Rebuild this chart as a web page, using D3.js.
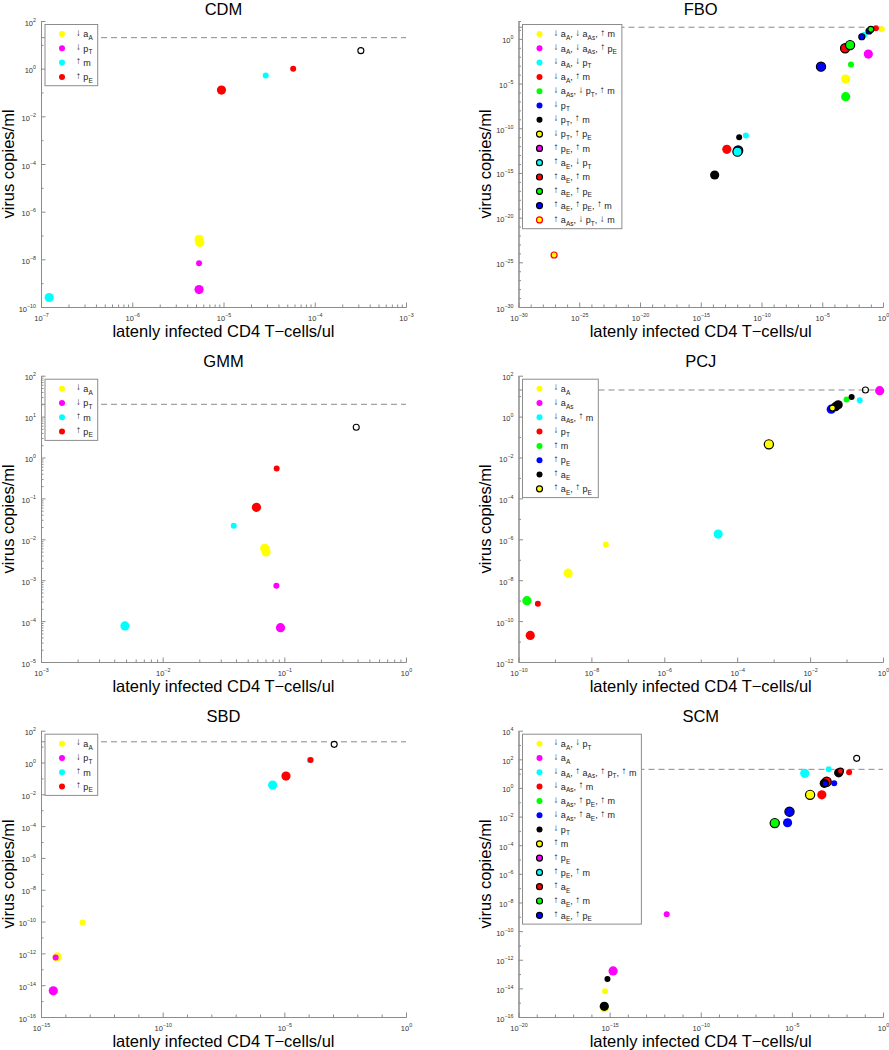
<!DOCTYPE html>
<html><head><meta charset="utf-8">
<script src="https://cdn.jsdelivr.net/npm/d3@7"></script>
<style>
body{margin:0;background:#fff}
svg{display:block}
text{font-family:"Liberation Sans",Arial,Helvetica,sans-serif}
</style>
</head><body>
<svg id="chart" width="889" height="1050"></svg>
<script>
// ---------------- DATA ----------------
const detectionLimit = 20;            // dashed reference level (copies/ml)
const xLabel = "latenly infected CD4 T\u2212cells/ul";
const yLabel = "virus copies/ml";

// CDM
const cdmXLim = [-7, -3], cdmYLim = [-10, 2];
const cdmXTicks = [-7, -6, -5, -4, -3];
const cdmYTicks = [-10, -8, -6, -4, -2, 0, 2];
const cdmX = [5.8e-5, 2.9e-5, 9.5e-6, 5.4e-6, 5.5e-6, 5.4e-6, 5.4e-6, 1.23e-7];
const cdmY = [1.0, 0.52, 0.127, 6.9e-8, 5.1e-8, 6.8e-9, 5.4e-10, 2.5e-10];
const cdmCat = [4, 3, 4, 1, 1, 2, 2, 3];
const cdmLvl = [1, 1, 2, 2, 2, 1, 2, 2];
const cdmBaseline = [3.2e-4, 5.7];

// FBO
const fboXLim = [-30, 0], fboYLim = [-30, 2];
const fboXTicks = [-30, -25, -20, -15, -10, -5, 0];
const fboYTicks = [-30, -25, -20, -15, -10, -5, 0];
const fboX = [8.5e-28, 1.4e-14, 1.4e-13, 1.2e-12, 1.05e-12, 5.2e-12, 1.45e-12, 8.5e-4, 8.5e-4, 2.3e-3, 7.9e-6, 0.062, 7.6e-4, 1.95e-3, 0.028, 0.018, 0.79, 0.26, 0.071, 0.10];
const fboY = [6.6e-25, 5.9e-16, 4.4e-13, 3.2e-13, 2.4e-13, 1.5e-11, 9.8e-12, 3.4e-7, 3.2e-5, 1.4e-3, 7.8e-4, 0.020, 0.089, 0.20, 2.7, 1.74, 11.7, 15, 7.6, 11.7];
const fboCat = [14, 7, 4, 13, 10, 3, 7, 5, 1, 5, 13, 2, 11, 12, 3, 13, 1, 4, 13, 12];
const fboLvl = [1, 2, 2, 2, 2, 1, 1, 2, 2, 1, 2, 2, 2, 2, 1, 1, 1, 1, 1, 1];
const fboBaseline = null;

// GMM
const gmmXLim = [-3, 0], gmmYLim = [-5, 2];
const gmmXTicks = [-3, -2, -1, 0];
const gmmYTicks = [-5, -4, -3, -2, -1, 0, 1, 2];
const gmmX = [0.0865, 0.059, 0.0384, 0.069, 0.0708, 0.086, 0.0049, 0.093];
const gmmY = [0.54, 0.0605, 0.0215, 0.0060, 0.0049, 7.3e-4, 7.6e-5, 6.9e-5];
const gmmCat = [4, 4, 3, 1, 1, 2, 3, 2];
const gmmLvl = [1, 2, 1, 2, 2, 1, 2, 2];
const gmmBaseline = [0.39, 5.5];

// PCJ
const pcjXLim = [-10, 0], pcjYLim = [-12, 2];
const pcjXTicks = [-10, -8, -6, -4, -2, 0];
const pcjYTicks = [-12, -10, -8, -6, -4, -2, 0, 2];
const pcjX = [2.1e-10, 3.4e-10, 1.7e-10, 2.3e-9, 2.5e-8, 3.0e-5, 7.4e-4, 0.038, 0.050, 0.059, 0.041, 0.10, 0.138, 0.23, 0.81];
const pcjY = [2.0e-11, 7.1e-10, 1.0e-9, 2.2e-8, 5.5e-7, 1.8e-6, 0.044, 2.3, 3.05, 3.8, 2.6, 6.8, 9.1, 6.3, 18.6];
const pcjCat = [4, 4, 5, 1, 1, 3, 8, 6, 7, 7, 8, 5, 7, 3, 2];
const pcjLvl = [2, 1, 2, 2, 1, 2, 2, 2, 2, 2, 1, 1, 1, 1, 2];
const pcjBaseline = [0.33, 20];

// SBD
const sbdXLim = [-15, 0], sbdYLim = [-16, 2];
const sbdXTicks = [-15, -10, -5, 0];
const sbdYTicks = [-16, -14, -12, -10, -8, -6, -4, -2, 0, 2];
const sbdX = [1.12e-4, 1.2e-4, 1.17e-5, 3.3e-6, 5.1e-14, 4.6e-15, 4.0e-15, 3.2e-15];
const sbdY = [1.43, 1.43, 0.141, 0.038, 8.7e-11, 6.0e-13, 5.5e-13, 4.4e-15];
const sbdCat = [3, 4, 4, 3, 1, 1, 2, 2];
const sbdLvl = [1, 1, 2, 2, 1, 2, 1, 2];
const sbdBaseline = [1.12e-3, 13.9];

// SCM
const scmXLim = [-20, 0], scmYLim = [-16, 4];
const scmXTicks = [-20, -15, -10, -5, 0];
const scmYTicks = [-16, -14, -12, -10, -8, -6, -4, -2, 0, 2, 4];
const scmX = [5.1e-16, 5.1e-16, 5.6e-16, 7.6e-16, 1.55e-15, 1.35e-12, 1.15e-6, 5.8e-6, 7.4e-6, 1.0e-4, 4.4e-4, 5.1e-5, 8.1e-4, 6.0e-4, 6.6e-4, 2.1e-3, 1.05e-3, 3.7e-3, 4.6e-3, 0.0138];
const scmY = [4.5e-16, 5.6e-16, 6.3e-15, 4.6e-14, 1.66e-13, 1.5e-9, 3.5e-3, 3.7e-3, 0.022, 0.33, 0.33, 10.5, 2.7, 2.1, 2.0, 2.1, 20, 11.5, 15, 12.3];
const scmCat = [1, 7, 1, 7, 2, 2, 12, 6, 13, 8, 4, 3, 11, 7, 13, 6, 3, 7, 11, 4];
const scmLvl = [2, 2, 1, 1, 2, 1, 2, 2, 2, 2, 2, 2, 2, 2, 1, 1, 1, 2, 1, 1];
const scmBaseline = [0.036, 117];

// Legend labels
const simpleLegend = ["↓ a_{A}", "↓ p_{T}", "↑ m", "↑ p_{E}"];
const fboLegend = ["↓ a_{A}, ↓ a_{As}, ↑ m", "↓ a_{A}, ↓ a_{As}, ↑ p_{E}", "↓ a_{A}, ↓ p_{T}", "↓ a_{A}, ↑ m",
  "↓ a_{As}, ↓ p_{T}, ↑ m", "↓ p_{T}", "↓ p_{T}, ↑ m", "↓ p_{T}, ↑ p_{E}", "↑ p_{E}, ↑ m", "↑ a_{E}, ↓ p_{T}",
  "↑ a_{E}, ↑ m", "↑ a_{E}, ↑ p_{E}", "↑ a_{E}, ↑ p_{E}, ↑ m", "↑ a_{As}, ↓ p_{T}, ↓ m"];
const pcjLegend = ["↓ a_{A}", "↓ a_{As}", "↓ a_{As}, ↑ m", "↓ p_{T}", "↑ m", "↑ p_{E}", "↑ a_{E}", "↑ a_{E}, ↑ p_{E}"];
const scmLegend = ["↓ a_{A}, ↓ p_{T}", "↓ a_{A}", "↓ a_{A}, ↑ a_{As}, ↑ p_{T}, ↑ m", "↓ a_{As}, ↑ m",
  "↓ a_{As}, ↑ p_{E}, ↑ m", "↓ a_{As}, ↑ a_{E}, ↑ m", "↓ p_{T}", "↑ m", "↑ p_{E}", "↑ p_{E}, ↑ m",
  "↑ a_{E}", "↑ a_{E}, ↑ m", "↑ a_{E}, ↑ p_{E}"];

// ---------------- STYLE ----------------
const Y = "#ffff00", M = "#ff00ff", C = "#00ffff", R = "#ff0000", G = "#00ff00", B = "#0000ff", K = "#000000";
const simpleStyle = {fill: [Y, M, C, R], edge: [null, null, null, null]};
const fboStyle = {fill: [Y, M, C, R, G, B, K, Y, M, C, R, G, B, Y],
  edge: [null, null, null, null, null, null, null, K, K, K, K, K, K, R]};
const pcjStyle = {fill: [Y, M, C, R, G, B, K, Y], edge: [null, null, null, null, null, null, null, K]};
const scmStyle = {fill: [Y, M, C, R, G, B, K, Y, M, C, R, G, B],
  edge: [null, null, null, null, null, null, null, K, K, K, K, K, K]};

const axisColor = "#8c8c8c";
const colX = [[41, 406], [518.5, 883]];
const rowY = [[21, 307], [375.7, 662], [730.7, 1017]];

const panels = [
  {title: "CDM", col: 0, row: 0, xs: cdmX, ys: cdmY, cat: cdmCat, lvl: cdmLvl, base: cdmBaseline, xl: cdmXLim, yl: cdmYLim, xt: cdmXTicks, yt: cdmYTicks, legend: simpleLegend, style: simpleStyle},
  {title: "FBO", col: 1, row: 0, xs: fboX, ys: fboY, cat: fboCat, lvl: fboLvl, base: fboBaseline, xl: fboXLim, yl: fboYLim, xt: fboXTicks, yt: fboYTicks, legend: fboLegend, style: fboStyle},
  {title: "GMM", col: 0, row: 1, xs: gmmX, ys: gmmY, cat: gmmCat, lvl: gmmLvl, base: gmmBaseline, xl: gmmXLim, yl: gmmYLim, xt: gmmXTicks, yt: gmmYTicks, legend: simpleLegend, style: simpleStyle},
  {title: "PCJ", col: 1, row: 1, xs: pcjX, ys: pcjY, cat: pcjCat, lvl: pcjLvl, base: pcjBaseline, xl: pcjXLim, yl: pcjYLim, xt: pcjXTicks, yt: pcjYTicks, legend: pcjLegend, style: pcjStyle},
  {title: "SBD", col: 0, row: 2, xs: sbdX, ys: sbdY, cat: sbdCat, lvl: sbdLvl, base: sbdBaseline, xl: sbdXLim, yl: sbdYLim, xt: sbdXTicks, yt: sbdYTicks, legend: simpleLegend, style: simpleStyle},
  {title: "SCM", col: 1, row: 2, xs: scmX, ys: scmY, cat: scmCat, lvl: scmLvl, base: scmBaseline, xl: scmXLim, yl: scmYLim, xt: scmXTicks, yt: scmYTicks, legend: scmLegend, style: scmStyle}
];

const sizeScale = d3.scaleOrdinal().domain([1, 2]).range([3, 4.6]);

const svg = d3.select("#chart");
svg.append("rect").attr("width", 889).attr("height", 1050).attr("fill", "#fff");

function minorTicks(ticks, lim) {
  const step = ticks.length > 1 ? ticks[1] - ticks[0] : 1;
  const out = [];
  for (let e = lim[0]; e < lim[1]; e++) {
    if (step === 1) { for (let k = 2; k <= 9; k++) out.push(k * Math.pow(10, e)); }
    else if (!ticks.includes(e)) out.push(Math.pow(10, e));
  }
  if (step !== 1 && !ticks.includes(lim[1])) out.push(Math.pow(10, lim[1]));
  return out;
}

function richText(textSel, str, fs) {
  const re = /([↓↑])|_\{([^}]*)\}|([^↓↑_]+)/g;
  let m, cur = 0;
  while ((m = re.exec(str))) {
    let txt, off, size;
    if (m[1]) { txt = m[1]; off = -1.6; size = fs * 1.08; }
    else if (m[2] !== undefined) { txt = m[2]; off = 2.6; size = fs * 0.72; }
    else { txt = m[3]; off = 0; size = fs; }
    textSel.append("tspan").attr("dy", off - cur).attr("font-size", size).text(txt);
    cur = off;
  }
}

function expLabel(textSel, e) {
  textSel.text(null);
  textSel.append("tspan").text("10");
  textSel.append("tspan").attr("dy", -4).attr("font-size", 5.3).text(String(e).replace("-", "\u2212"));
}

panels.forEach(p => {
  const [x0, x1] = colX[p.col];
  const [y0, y1] = rowY[p.row];
  const x = d3.scaleLog().domain([Math.pow(10, p.xl[0]), Math.pow(10, p.xl[1])]).range([x0, x1]);
  const y = d3.scaleLog().domain([Math.pow(10, p.yl[0]), Math.pow(10, p.yl[1])]).range([y1, y0]);
  const g = svg.append("g");

  // dashed detection-limit line
  g.append("line").attr("x1", x0).attr("x2", x1)
    .attr("y1", y(detectionLimit)).attr("y2", y(detectionLimit))
    .attr("stroke", "#8a8a8a").attr("stroke-width", 1).attr("stroke-dasharray", "6,4");

  // axes
  const xMaj = p.xt.map(e => Math.pow(10, e));
  const yMaj = p.yt.map(e => Math.pow(10, e));
  const gxMin = g.append("g").attr("transform", `translate(0,${y1})`)
    .call(d3.axisBottom(x).tickValues(minorTicks(p.xt, p.xl)).tickSize(-2.5).tickSizeOuter(0).tickFormat(""));
  const gyMin = g.append("g").attr("transform", `translate(${x0},0)`)
    .call(d3.axisLeft(y).tickValues(minorTicks(p.yt, p.yl)).tickSize(-2.5).tickSizeOuter(0).tickFormat(""));
  const gx = g.append("g").attr("transform", `translate(0,${y1})`)
    .call(d3.axisBottom(x).tickValues(xMaj).tickSize(-4.5).tickSizeOuter(0));
  const gy = g.append("g").attr("transform", `translate(${x0},0)`)
    .call(d3.axisLeft(y).tickValues(yMaj).tickSize(-4.5).tickSizeOuter(0));
  [gxMin, gyMin, gx, gy].forEach(a => {
    a.selectAll("line,path").attr("stroke", axisColor).attr("stroke-width", 1);
    a.selectAll(".domain").attr("stroke", axisColor);
  });
  gx.selectAll(".tick text").each(function(d) {
    const t = d3.select(this);
    expLabel(t, Math.round(Math.log10(d)));
    t.attr("y", 14).attr("dy", null).attr("font-size", 7.5).attr("fill", "#333").attr("text-anchor", "middle")
      .attr("font-family", '"Liberation Sans",Arial,sans-serif');
  });
  gy.selectAll(".tick text").each(function(d) {
    const t = d3.select(this);
    expLabel(t, Math.round(Math.log10(d)));
    t.attr("x", -5).attr("y", 4).attr("dy", null).attr("font-size", 7.5).attr("fill", "#333").attr("text-anchor", "end")
      .attr("font-family", '"Liberation Sans",Arial,sans-serif');
  });

  // points
  const pts = p.xs.map((v, i) => ({x: v, y: p.ys[i], c: p.cat[i] - 1, l: p.lvl[i]}));
  g.append("g").selectAll("circle").data(pts).join("circle")
    .attr("cx", d => x(d.x)).attr("cy", d => y(d.y)).attr("r", d => sizeScale(d.l))
    .attr("fill", d => p.style.fill[d.c])
    .attr("stroke", d => p.style.edge[d.c] || "none").attr("stroke-width", 1.2);
  if (p.base) {
    g.append("circle").attr("cx", x(p.base[0])).attr("cy", y(p.base[1])).attr("r", 3)
      .attr("fill", "none").attr("stroke", "#000").attr("stroke-width", 1.1);
  }

  // titles and labels
  g.append("text").attr("x", (x0 + x1) / 2).attr("y", Math.max(y0 - 8.5, 15)).attr("text-anchor", "middle")
    .attr("font-size", 16.5).attr("fill", "#000").text(p.title);
  g.append("text").attr("x", (x0 + x1) / 2).attr("y", y1 + 29.5).attr("text-anchor", "middle")
    .attr("font-size", 16.5).attr("fill", "#000").text(xLabel);
  g.append("text").attr("transform", `translate(${x0 - 33},${(y0 + y1) / 2}) rotate(-90)`)
    .attr("text-anchor", "middle").attr("dy", "0.35em")
    .attr("font-size", 16.5).attr("fill", "#000").text(yLabel);

  // legend
  const lx = x0 + 4, ly = y0 + 3.5, rowH = 14.3;
  const lg = g.append("g");
  const box = lg.append("rect").attr("x", lx).attr("y", ly).attr("height", p.legend.length * rowH + 4)
    .attr("fill", "#fff").attr("stroke", axisColor).attr("stroke-width", 1);
  let maxW = 0;
  p.legend.forEach((lab, i) => {
    const cy = ly + 9.5 + i * rowH;
    lg.append("circle").attr("cx", lx + 17).attr("cy", cy).attr("r", 3)
      .attr("fill", p.style.fill[i]).attr("stroke", p.style.edge[i] || "none").attr("stroke-width", 1.2);
    const t = lg.append("text").attr("x", lx + 31).attr("y", cy + 3.2).attr("font-size", 9).attr("fill", "#222");
    richText(t, lab, 9);
    maxW = Math.max(maxW, t.node().getComputedTextLength());
  });
  box.attr("width", 31 + maxW + 5);
});
</script>
</body></html>
